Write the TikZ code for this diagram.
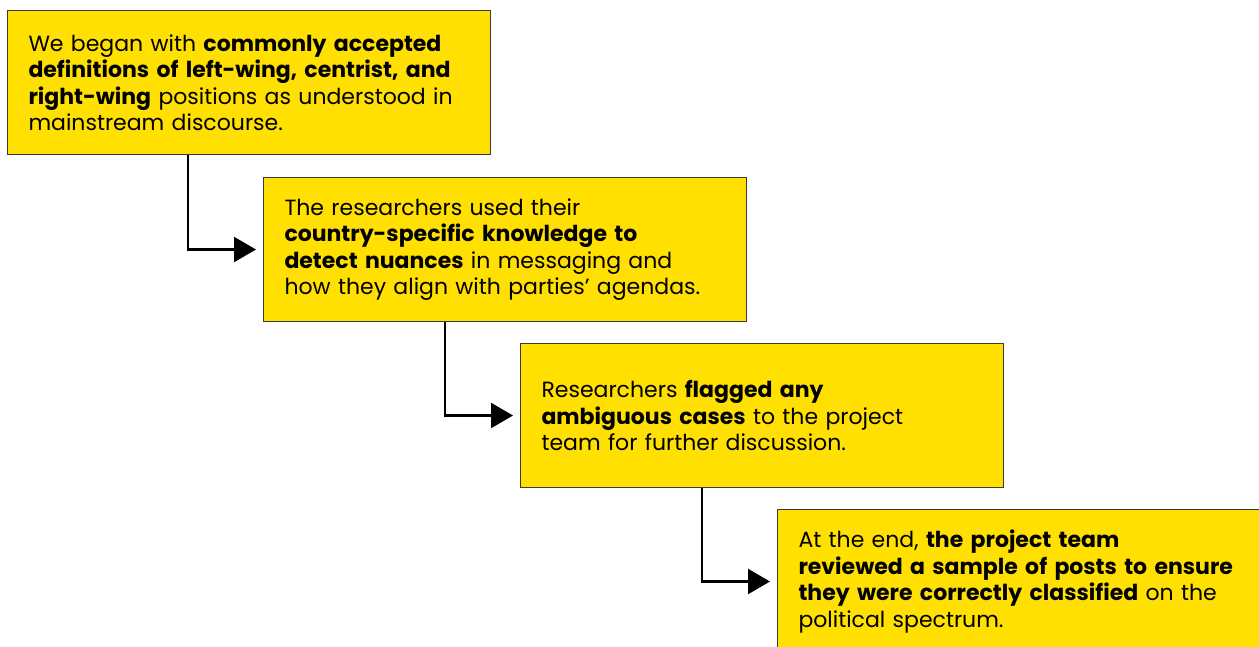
\documentclass[tikz,border=0pt]{standalone}
\usepackage{fontspec}
\setmainfont{Poppins}
\usetikzlibrary{arrows.meta}
\definecolor{boxyellow}{HTML}{FFE000}
\definecolor{boxedge}{HTML}{3A3A3A}
\tikzset{
  stepbox/.style={draw=boxedge, line width=1pt, fill=boxyellow, anchor=north west,
    inner xsep=21pt, inner ysep=0pt, text width=441pt, minimum height=144pt,
    align=left, font=\fontsize{22}{26.5}\selectfont},
  link/.style={line width=2.2pt, -{Triangle[length=22pt,width=25pt]}, shorten >=7pt}
}
\begin{document}
\begin{tikzpicture}[x=1pt,y=1pt]
\useasboundingbox (0,0) rectangle (1259,-646);
\node[stepbox] (b1) at (7,-10) {We began with \textbf{commonly accepted}\\\textbf{definitions of left-wing, centrist, and}\\\textbf{right-wing} positions as understood in\\mainstream discourse.};
\node[stepbox] (b2) at (263,-177) {The researchers used their\\\textbf{country-specific knowledge to}\\\textbf{detect nuances} in messaging and\\how they align with parties' agendas.};
\node[stepbox] (b3) at (520,-343) {Researchers \textbf{flagged any}\\\textbf{ambiguous cases} to the project\\team for further discussion.};
\node[stepbox] (b4) at (777,-509) {At the end, \textbf{the project team}\\\textbf{reviewed a sample of posts to ensure}\\\textbf{they were correctly classified} on the\\political spectrum.};
\draw[link] ([xshift=181pt]b1.south west) |- (b2.west);
\draw[link] ([xshift=182pt]b2.south west) |- (b3.west);
\draw[link] ([xshift=182pt]b3.south west) |- (b4.west);
\end{tikzpicture}
\end{document}
